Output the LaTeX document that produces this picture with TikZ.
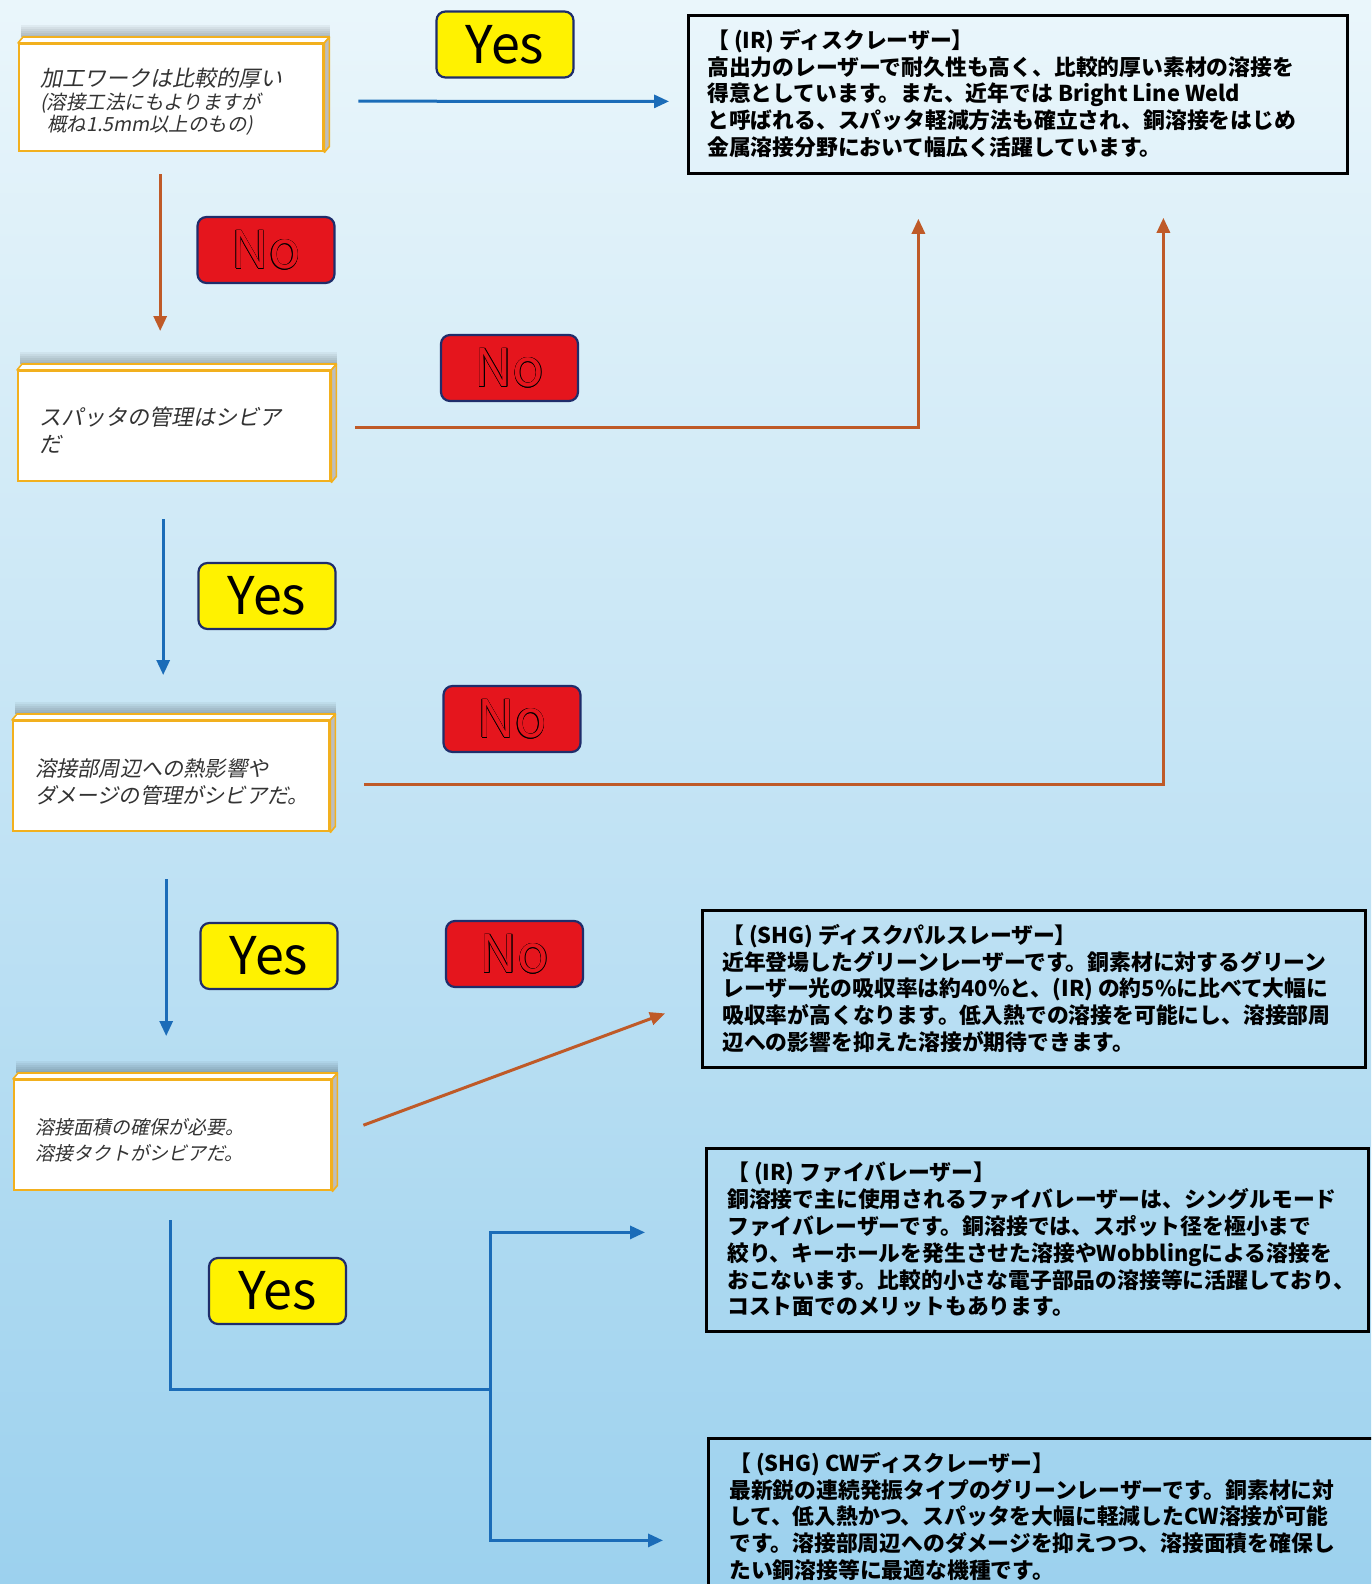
\documentclass[tikz,border=0pt]{standalone}
\usepackage{fontspec}
\usetikzlibrary{arrows.meta,calc}
\newfontfamily\jpq[FakeSlant=0.2]{Noto Sans CJK JP}
\newfontfamily\jpb{Noto Sans CJK JP}
\newfontfamily\labfont{Noto Sans CJK JP}
\definecolor{bgtop}{HTML}{EAF6FB}
\definecolor{bgmid}{HTML}{C6E6F3}
\definecolor{bgbot}{HTML}{9CD1EE}
\definecolor{qorange}{HTML}{F2B01E}
\definecolor{qtextcol}{HTML}{333333}
\definecolor{qside}{HTML}{BDBDBD}
\definecolor{labedge}{HTML}{1F2D6B}
\definecolor{labyellow}{HTML}{FFF200}
\definecolor{labred}{HTML}{E5151D}
\definecolor{arrblue}{HTML}{1B6CB8}
\definecolor{arrbrown}{HTML}{BF5A28}
\newcommand\outl[2]{%
  \makebox[0pt][l]{\raisebox{0.5pt}{\color{black}#2}}%
  \makebox[0pt][l]{\raisebox{-0.5pt}{\color{black}#2}}%
  \makebox[0pt][l]{\hspace{0.5pt}\color{black}#2}%
  \makebox[0pt][l]{\hspace{-0.5pt}\color{black}#2}%
  \makebox[0pt][l]{\hspace{0.35pt}\raisebox{0.35pt}{\color{black}#2}}%
  \makebox[0pt][l]{\hspace{-0.35pt}\raisebox{0.35pt}{\color{black}#2}}%
  \makebox[0pt][l]{\hspace{0.35pt}\raisebox{-0.35pt}{\color{black}#2}}%
  \makebox[0pt][l]{\hspace{-0.35pt}\raisebox{-0.35pt}{\color{black}#2}}%
  {\color{#1}#2}}
\newcommand\qdeco[1]{%
  \foreach \i in {1,...,6} {
    \fill[black,opacity=0.045] ($(#1.north west)+(3,-6-2*\i)$) rectangle ($(#1.north east)+(6,-6)$);
  }
  \filldraw[fill=white,draw=qorange,line width=1.6pt,line join=round]
    (#1.north west) -- ++(5,-6) -- ([shift={(5,-6)}]#1.north east) -- (#1.north east) -- cycle;
  \filldraw[fill=qside,draw=qorange,line width=1.6pt,line join=round]
    (#1.north east) -- ++(5,-6) -- ([shift={(5,-6)}]#1.south east) -- (#1.south east) -- cycle;
}
\begin{document}
\begin{tikzpicture}[x=1pt,y=-1pt,
  qbox/.style={draw=qorange, line width=2.4pt, fill=white, anchor=north west, inner sep=0pt},
  qtext/.style={anchor=west, align=left, inner sep=0pt, text=qtextcol, font=\jpq},
  lab/.style={rounded corners=9pt, draw=labedge, line width=2.2pt, minimum width=137pt,
    minimum height=66pt, font=\labfont\fontsize{52}{52}\selectfont, inner sep=0pt},
  yeslab/.style={lab, fill=labyellow},
  nolab/.style={lab, fill=labred},
  rbox/.style={draw=black, line width=2.8pt, anchor=north west, inner sep=0pt},
  rtext/.style={anchor=north west, align=left, inner sep=0pt,
    font=\jpb\bfseries\fontsize{21.8}{26.8}\selectfont, text=black},
  yesarr/.style={draw=arrblue, line width=3pt, -{Triangle[length=15pt,width=13pt]}},
  yesline/.style={draw=arrblue, line width=3pt},
  noarr/.style={draw=arrbrown, line width=3pt, -{Triangle[length=15pt,width=13pt]}}
]
\useasboundingbox (0,0) rectangle (1371,1584);
\clip (0,0) rectangle (1371,1584);
\shade[top color=bgtop, middle color=bgmid, bottom color=bgbot] (0,0) rectangle (1371,1584);

% question boxes
\node[qbox, minimum width=304pt, minimum height=107pt] (q1) at (18,43) {};
\qdeco{q1}
\node[qtext] (q1t) at ($(q1.west)+(22,4)$) {{\fontsize{22}{26}\selectfont 加工ワークは比較的厚い}\\[4pt]
  {\fontsize{19.5}{24}\selectfont (溶接工法にもよりますが}\\[1pt]
  {\fontsize{19.5}{24}\selectfont\hspace{7pt}概ね1.5mm以上のもの)}};

\node[qbox, minimum width=312pt, minimum height=110pt] (q2) at (17,370) {};
\qdeco{q2}
\node[qtext, font=\jpq\fontsize{22}{27}\selectfont] (q2t) at ($(q2.west)+(22,4)$) {スパッタの管理はシビア\\だ};

\node[qbox, minimum width=316pt, minimum height=110pt] (q3) at (12,720) {};
\qdeco{q3}
\node[qtext, font=\jpq\fontsize{21.2}{27}\selectfont] (q3t) at ($(q3.west)+(23,6)$) {溶接部周辺への熱影響や\\ダメージの管理がシビアだ。};

\node[qbox, minimum width=317pt, minimum height=110pt] (q4) at (13,1079) {};
\qdeco{q4}
\node[qtext, font=\jpq\fontsize{19}{25.5}\selectfont] (q4t) at ($(q4.west)+(22,5)$) {溶接面積の確保が必要。\\溶接タクトがシビアだ。};

% result boxes
\node[rbox, minimum width=659pt, minimum height=158pt] (r1) at (687,14) {};
\node[rtext] (r1t) at ($(r1.north west)+(20,15)$) {【 (IR) ディスクレーザー】\\
高出力のレーザーで耐久性も高く、比較的厚い素材の溶接を\\
得意としています。また、近年では Bright Line Weld\\
と呼ばれる、スパッタ軽減方法も確立され、銅溶接をはじめ\\
金属溶接分野において幅広く活躍しています。};

\node[rbox, minimum width=663pt, minimum height=157pt] (r2) at (701,909) {};
\node[rtext] (r2t) at ($(r2.north west)+(21,15)$) {【 (SHG) ディスクパルスレーザー】\\
近年登場したグリーンレーザーです。銅素材に対するグリーン\\
レーザー光の吸収率は約40％と、(IR) の約5\%に比べて大幅に\\
吸収率が高くなります。低入熱での溶接を可能にし、溶接部周\\
辺への影響を抑えた溶接が期待できます。};

\node[rbox, minimum width=662pt, minimum height=183pt] (r3) at (705,1147) {};
\node[rtext] (r3t) at ($(r3.north west)+(22,15)$) {【 (IR) ファイバレーザー】\\
銅溶接で主に使用されるファイバレーザーは、シングルモード\\
ファイバレーザーです。銅溶接では、スポット径を極小まで\\
絞り、キーホールを発生させた溶接やWobblingによる溶接を\\
おこないます。比較的小さな電子部品の溶接等に活躍しており、\\
コスト面でのメリットもあります。};

\node[rbox, minimum width=690pt, minimum height=170pt] (r4) at (707,1437) {};
\node[rtext] (r4t) at ($(r4.north west)+(22,15)$) {【 (SHG) CWディスクレーザー】\\
最新鋭の連続発振タイプのグリーンレーザーです。銅素材に対\\
して、低入熱かつ、スパッタを大幅に軽減したCW溶接が可能\\
です。溶接部周辺へのダメージを抑えつつ、溶接面積を確保し\\
たい銅溶接等に最適な機種です。};

% labels
\node[yeslab] (y1) at (505,44.5) {Yes};
\node[nolab] (n1) at (266,250) {\outl{labred}{No}};
\node[nolab] (n2) at (509.5,368) {\outl{labred}{No}};
\node[yeslab] (y2) at (267,596) {Yes};
\node[nolab] (n3) at (512,719) {\outl{labred}{No}};
\node[yeslab] (y3) at (269,956) {Yes};
\node[nolab] (n4) at (514.5,954) {\outl{labred}{No}};
\node[yeslab] (y4) at (277.5,1291) {Yes};

% connectors
\draw[yesarr] ($(q1.east)+(34,3.5)$) -- ($(r1.west)+(-18,7)$);
\draw[noarr] ($(q1.south)+(-11,22)$) -- ($(q2.north)+(-14,-39)$);
\draw[noarr] ($(q2.east)+(24,1)$) -| ($(r1.south)+(-99.5,44)$);
\draw[yesarr] ($(q2.south)+(-11,37)$) -- ($(q3.north)+(-8,-45)$);
\draw[noarr] ($(q3.east)+(34,8)$) -| ($(r1.south)+(145.5,43)$);
\draw[yesarr] ($(q3.south)+(-5,47)$) -- ($(q4.north)+(-6.5,-43)$);
\draw[noarr] ($(q4.east)+(31,-10)$) -- ($(r2.west)+(-36,24.5)$);
\coordinate (j) at (490,1389);
\draw[yesline] ($(q4.south)+(-2.5,29)$) |- (j);
\draw[yesarr] (j) |- ($(r3.west)+(-60,-7.5)$);
\draw[yesarr] (j) |- ($(r4.west)+(-44,17)$);
\end{tikzpicture}
\end{document}
